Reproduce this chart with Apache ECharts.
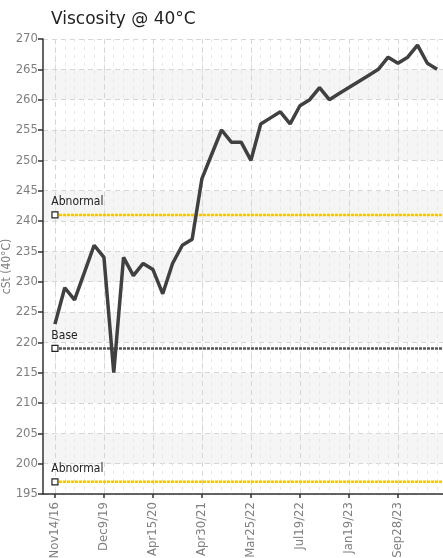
<!DOCTYPE html>
<html>
<head>
<meta charset="utf-8">
<script src="https://cdn.jsdelivr.net/npm/echarts@6/dist/echarts.min.js"></script>
<style>
  html, body { margin: 0; padding: 0; background: #fff; }
  #chart { width: 443px; height: 558px; }
</style>
</head>
<body>
<div id="chart"></div>
<script>
// sample dates shown on the axis (every 5th sample)
var tickLabels = ['Nov14/16', 'Dec9/19', 'Apr15/20', 'Apr30/21', 'Mar25/22', 'Jul19/22', 'Jan19/23', 'Sep28/23'];
var labelStep = 5;

// viscosity readings, one per sample
var viscosity = [
  223, 229, 227, 231.5, 236, 234, 215, 234, 231, 233,
  232, 228, 233, 236, 237, 247, 251, 255, 253, 253,
  250, 256, 257, 258, 256, 259, 260, 262, 260, 261,
  262, 263, 264, 265, 267, 266, 267, 269, 266, 265
];

// limit lines
var limitNames = ['Abnormal', 'Base', 'Abnormal'];
var limitValues = [241, 219, 197];
var limitColors = ['#f7c600', '#555555', '#f7c600'];

var xMin = -1.22, xMax = 39.6;
var FONT = "'Liberation Sans Narrow', 'DejaVu Sans Condensed', sans-serif";

var lineData = viscosity.map(function (v, i) { return [i, v]; });
var allIdx = viscosity.map(function (v, i) { return i; });
var labelIdx = tickLabels.map(function (t, i) { return i * labelStep; });

var series = [{
  name: 'cSt (40°C)',
  type: 'line',
  data: lineData,
  showSymbol: false,
  symbol: 'none',
  lineStyle: { color: '#404040', width: 3.5 },
  z: 5
}];

limitValues.forEach(function (v, k) {
  series.push({
    name: limitNames[k],
    type: 'line',
    data: [
      {
        value: [0, v],
        symbol: 'rect',
        symbolSize: 6,
        itemStyle: { color: '#fff', borderColor: '#222', borderWidth: 1.2 },
        label: {
          show: true,
          formatter: limitNames[k],
          position: [0, -15],
          align: 'left',
          color: '#222',
          fontFamily: FONT,
          fontSize: 12
        }
      },
      { value: [xMax, v], symbol: 'none' }
    ],
    lineStyle: { color: limitColors[k], width: 2.5, type: [3, 1] },
    z: 4,
    silent: true
  });
});

var mychart = echarts.init(document.getElementById('chart'));

var option = {
  animation: false,
  title: {
    text: 'Viscosity @ 40°C',
    left: 46,
    top: 6,
    textStyle: { fontFamily: 'DejaVu Sans', fontSize: 17, fontWeight: 'normal', color: '#222' }
  },
  grid: { left: 43, right: 0, top: 39, bottom: 64, containLabel: false, outerBoundsMode: 'none' },
  xAxis: [
    {
      // minor grid, one line per sample
      type: 'value',
      min: xMin,
      max: xMax,
      axisLine: { show: false },
      axisTick: { show: false, customValues: allIdx },
      axisLabel: { show: false, customValues: allIdx },
      splitLine: { show: true, lineStyle: { color: '#e6e6e6', type: [3, 5], width: 1 } }
    },
    {
      type: 'value',
      min: xMin,
      max: xMax,
      position: 'bottom',
      axisLine: { show: true, onZero: false, lineStyle: { color: '#333', width: 1.5 } },
      axisTick: { show: true, inside: false, length: 4, customValues: labelIdx, lineStyle: { color: '#333', width: 1.5 } },
      axisLabel: {
        customValues: labelIdx,
        rotate: 90,
        margin: 8,
        color: '#808080',
        fontFamily: FONT,
        fontSize: 13,
        formatter: function (val) { return tickLabels[Math.round(val / labelStep)] || ''; }
      },
      splitLine: { show: true, lineStyle: { color: '#d6d6d6', type: [5, 4], width: 1 } }
    }
  ],
  yAxis: {
    type: 'value',
    min: 195,
    max: 270,
    interval: 5,
    name: 'cSt (40°C)',
    nameLocation: 'middle',
    nameGap: 30,
    nameMoveOverlap: false,
    nameTextStyle: { color: '#808080', fontFamily: FONT, fontSize: 12 },
    axisLine: { show: true, onZero: false, lineStyle: { color: '#333', width: 1.5 } },
    axisTick: { show: true, length: 5, lineStyle: { color: '#333', width: 1.5 } },
    axisLabel: { color: '#808080', fontFamily: FONT, fontSize: 13, margin: 5 },
    splitLine: { show: true, lineStyle: { color: '#d6d6d6', type: [5, 4], width: 1 } },
    splitArea: { show: true, areaStyle: { color: ['rgba(255,255,255,0)', '#f5f5f5'] } }
  },
  series: series.map(function (s) { s.xAxisIndex = 1; return s; })
};

mychart.setOption(option);
</script>
</body>
</html>
